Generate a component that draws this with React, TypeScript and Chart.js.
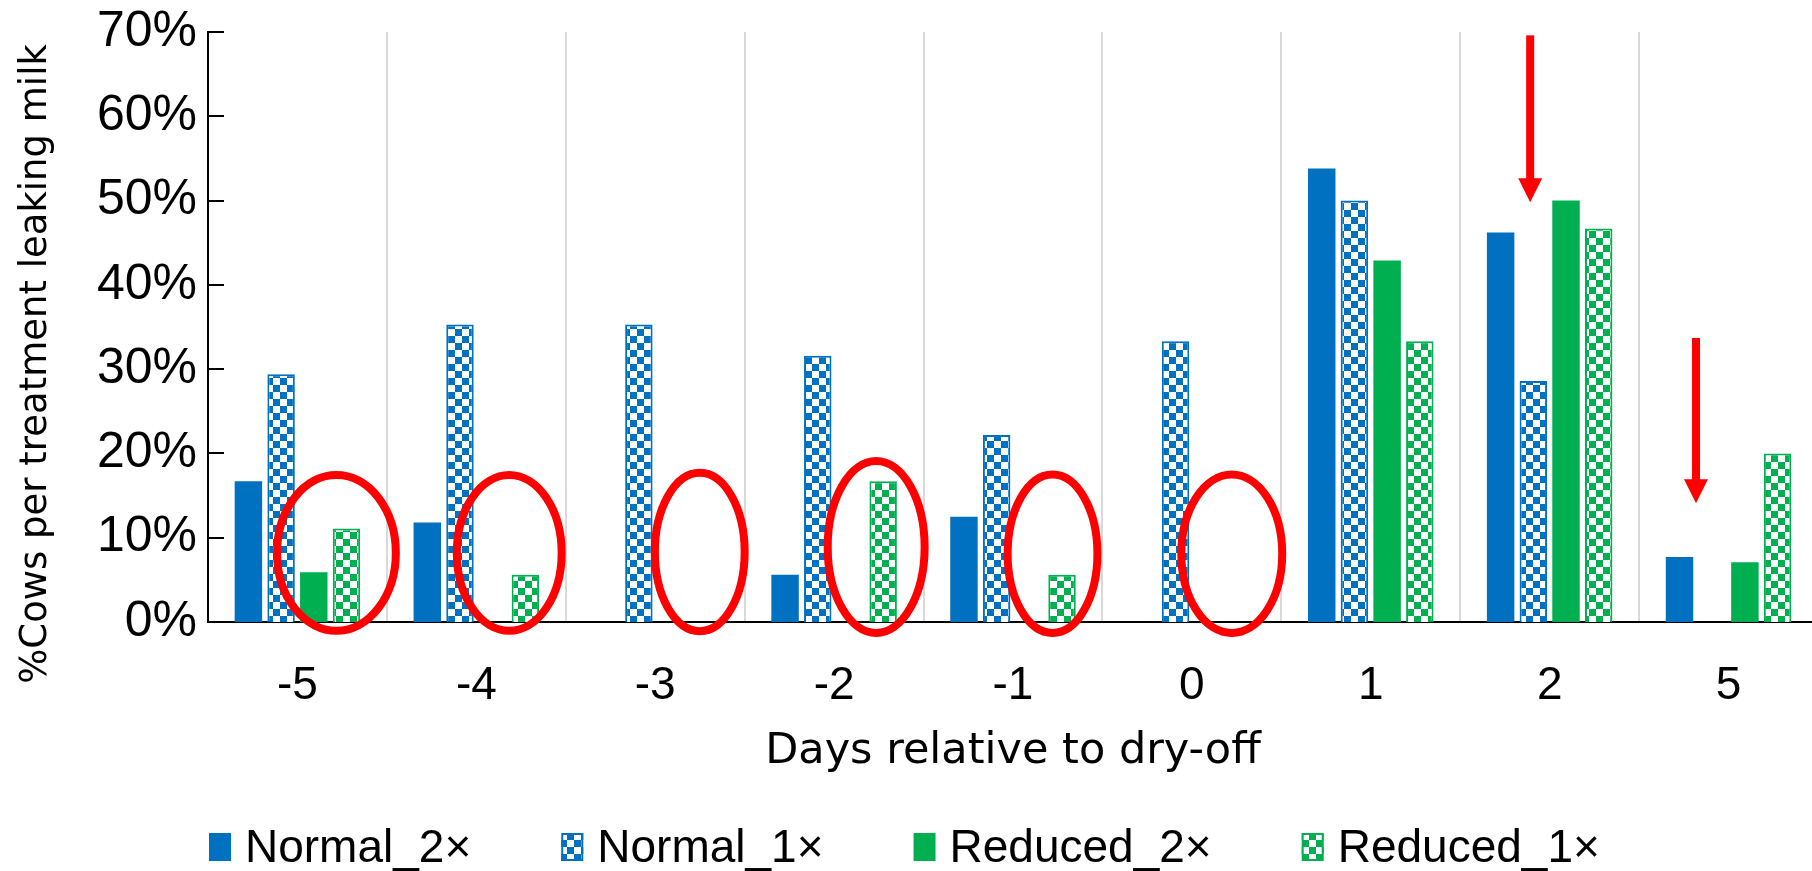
import React, { useEffect, useRef } from "react";
import { Chart, registerables } from "chart.js";

Chart.register(...registerables);

// ---------- data ----------
const categories = ["-5", "-4", "-3", "-2", "-1", "0", "1", "2", "5"];
const seriesLabels = ["Normal_2×", "Normal_1×", "Reduced_2×", "Reduced_1×"];
const normal2x = [16.7, 11.8, 0, 5.6, 12.5, 0, 53.8, 46.2, 7.7];
const normal1x = [29.4, 35.3, 35.3, 31.6, 22.2, 33.3, 50.0, 28.6, 0];
const reduced2x = [5.9, 0, 0, 0, 0, 0, 42.9, 50.0, 7.1];
const reduced1x = [11.1, 5.6, 0, 16.7, 5.6, 0, 33.3, 46.7, 20.0];
const yTickValues = [0, 10, 20, 30, 40, 50, 60, 70];
const xTitle = "Days relative to dry-off";
const yTitle = "%Cows per treatment leaking milk";

// annotations (in data units: category index + offset in category widths, y in %)
const ellipseCategory = [0, 1, 2, 3, 4, 5];
const ellipseOffset = [0.218, 0.184, 0.249, 0.235, 0.221, 0.223];
const ellipseCenterY = [8.2, 8.2, 8.3, 8.9, 8.1, 8.1];
const ellipseRadiusX = [0.332, 0.293, 0.251, 0.271, 0.251, 0.282];
const ellipseRadiusY = [9.25, 9.25, 9.4, 10.2, 9.4, 9.4];

const arrowCategory = [7, 8];
const arrowOffset = [-0.109, -0.182];
const arrowFrom = [69.6, 33.7];
const arrowTo = [49.8, 14.1];

// ---------- styles ----------
const BLUE = "#0070C0";
const GREEN = "#00B050";
const RED = "#FF0000";
const W = 1818;
const H = 871;

function makeChecker(color: string, size: number): CanvasPattern {
  const c = document.createElement("canvas");
  c.width = size * 2;
  c.height = size * 2;
  const g = c.getContext("2d")!;
  g.fillStyle = "#ffffff";
  g.fillRect(0, 0, size * 2, size * 2);
  g.fillStyle = color;
  g.fillRect(0, 0, size, size);
  g.fillRect(size, size, size, size);
  return g.createPattern(c, "repeat")!;
}

const insideTicksPlugin = {
  id: "insideTicks",
  afterDraw(chart: any) {
    const y = chart.scales.y;
    const left = chart.chartArea.left;
    const ctx = chart.ctx;
    ctx.save();
    ctx.strokeStyle = "#000";
    ctx.lineWidth = 2;
    y.ticks.forEach((t: any) => {
      const py = Math.round(y.getPixelForValue(t.value));
      ctx.beginPath();
      ctx.moveTo(left, py);
      ctx.lineTo(left + 16, py);
      ctx.stroke();
    });
    ctx.restore();
  },
};

// y-axis title, drawn rotated beside the y scale
const Y_TITLE_X = 36;
const Y_TITLE_CENTER_Y = 364;
const yTitlePlugin = {
  id: "yTitle",
  afterDraw(chart: any) {
    const ctx = chart.ctx;
    ctx.save();
    ctx.translate(Y_TITLE_X, Y_TITLE_CENTER_Y);
    ctx.rotate(-Math.PI / 2);
    ctx.font = '37px "DejaVu Sans", sans-serif';
    ctx.fillStyle = "#000";
    ctx.textAlign = "center";
    ctx.textBaseline = "middle";
    ctx.fillText(yTitle, 0, 0);
    ctx.restore();
  },
};

const annotationPlugin = {
  id: "redMarks",
  afterDatasetsDraw(chart: any) {
    const x = chart.scales.x;
    const y = chart.scales.y;
    const ctx = chart.ctx;
    const catW = x.getPixelForValue(1) - x.getPixelForValue(0);
    const pxPerUnit = y.getPixelForValue(0) - y.getPixelForValue(1);
    ctx.save();
    ctx.strokeStyle = RED;
    ctx.fillStyle = RED;
    ctx.lineWidth = 8;
    ellipseCategory.forEach((c, i) => {
      const cx = x.getPixelForValue(c) + ellipseOffset[i] * catW;
      const cy = y.getPixelForValue(ellipseCenterY[i]);
      const rx = ellipseRadiusX[i] * catW;
      const ry = ellipseRadiusY[i] * pxPerUnit;
      ctx.beginPath();
      ctx.ellipse(cx, cy, rx, ry, 0, 0, Math.PI * 2);
      ctx.stroke();
    });
    arrowCategory.forEach((c, i) => {
      const ax = x.getPixelForValue(c) + arrowOffset[i] * catW;
      const top = y.getPixelForValue(arrowFrom[i]);
      const tip = y.getPixelForValue(arrowTo[i]);
      const headLen = 24;
      const headW = 24;
      const shaftW = 8;
      ctx.fillRect(ax - shaftW / 2, top, shaftW, tip - headLen - top + 1);
      ctx.beginPath();
      ctx.moveTo(ax - headW / 2, tip - headLen);
      ctx.lineTo(ax + headW / 2, tip - headLen);
      ctx.lineTo(ax, tip);
      ctx.closePath();
      ctx.fill();
    });
    ctx.restore();
  },
};

const LEGEND_START_X = 209;
const LEGEND_Y = 847;
const LEGEND_FONT = '46px "Liberation Sans", Arial, sans-serif';
const BOX_W = 22;
const BOX_H = 28;
const BOX_GAP = 14;
const ITEM_GAP = 90;

const legendPlugin = {
  id: "customLegend",
  afterDraw(chart: any) {
    const ctx = chart.ctx;
    ctx.save();
    ctx.font = LEGEND_FONT;
    ctx.textBaseline = "middle";
    ctx.textAlign = "left";
    const ds = chart.data.datasets;
    let x = LEGEND_START_X;
    ds.forEach((d: any) => {
      const by = LEGEND_Y - BOX_H / 2;
      ctx.fillStyle = d.backgroundColor;
      ctx.fillRect(x, by, BOX_W, BOX_H);
      if (d.borderWidth) {
        ctx.strokeStyle = d.borderColor;
        ctx.lineWidth = 2;
        ctx.strokeRect(x + 1, by + 1, BOX_W - 2, BOX_H - 2);
      }
      ctx.fillStyle = "#000";
      ctx.fillText(d.label, x + BOX_W + BOX_GAP, LEGEND_Y + 2);
      x += BOX_W + BOX_GAP + ctx.measureText(d.label).width + ITEM_GAP;
    });
    ctx.restore();
  },
};

export default function App() {
  const ref = useRef<HTMLCanvasElement | null>(null);

  useEffect(() => {
    document.body.style.margin = "0";
    const canvas = ref.current!;
    const blueCheck = makeChecker(BLUE, 7);
    const greenCheck = makeChecker(GREEN, 7);
    const chart = new Chart(canvas, {
      type: "bar",
      data: {
        labels: categories,
        datasets: [
          { label: seriesLabels[0], data: normal2x, backgroundColor: BLUE, borderWidth: 0 },
          { label: seriesLabels[1], data: normal1x, backgroundColor: blueCheck as any, borderColor: BLUE, borderWidth: 2 },
          { label: seriesLabels[2], data: reduced2x, backgroundColor: GREEN, borderWidth: 0 },
          { label: seriesLabels[3], data: reduced1x, backgroundColor: greenCheck as any, borderColor: GREEN, borderWidth: 2 },
        ],
      },
      options: {
        responsive: false,
        animation: false,
        devicePixelRatio: 1,
        categoryPercentage: 0.731,
        barPercentage: 0.84,
        layout: { autoPadding: false, padding: { top: 32, left: 0, right: 0, bottom: 0 } },
        plugins: { legend: { display: false }, tooltip: { enabled: false } },
        scales: {
          x: {
            grid: { display: true, offset: true, color: "#D9D9D9", lineWidth: 2, drawTicks: false },
            border: { display: true, color: "#000", width: 2 },
            ticks: {
              color: "#000",
              font: { family: '"Liberation Sans", Arial, sans-serif', size: 46 },
              padding: 37,
            },
            title: {
              display: true,
              text: xTitle,
              color: "#000",
              font: { family: '"DejaVu Sans", sans-serif', size: 43 },
              padding: { top: 0, bottom: 93 },
            },
            afterFit: (s: any) => {
              s.height = H - 622;
            },
          },
          y: {
            min: 0,
            max: 70,
            afterBuildTicks: (s: any) => {
              s.ticks = yTickValues.map((v) => ({ value: v }));
            },
            ticks: {
              color: "#000",
              font: { family: '"Liberation Sans", Arial, sans-serif', size: 50, lineHeight: 0.8 },
              padding: 11,
              callback: (v: any) => v + "%",
            },
            grid: { display: false, drawTicks: false },
            border: { display: true, color: "#000", width: 2 },
            title: { display: false },
            afterFit: (s: any) => {
              s.width = 208;
            },
          },
        },
      },
      plugins: [annotationPlugin, insideTicksPlugin, yTitlePlugin, legendPlugin],
    });
    return () => chart.destroy();
  }, []);

  return (
    <div style={{ position: "fixed", left: 0, top: 0, width: W, height: H, background: "#fff", overflow: "hidden" }}>
      <canvas ref={ref} width={W} height={H} style={{ display: "block" }} />
    </div>
  );
}
